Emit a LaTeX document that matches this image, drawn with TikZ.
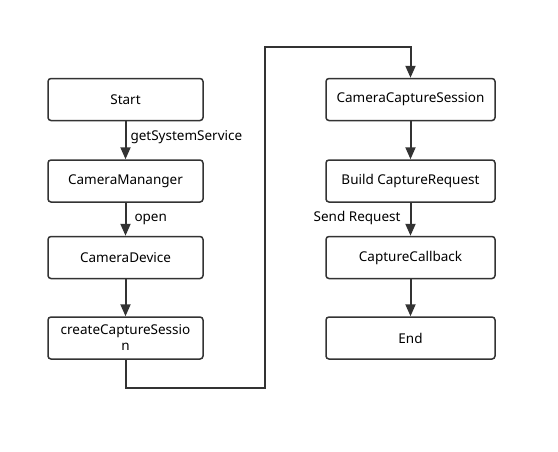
\documentclass[tikz,border=0pt]{standalone}
\usepackage{fontspec}
\setmainfont{Noto Sans}
\usetikzlibrary{arrows.meta}
\definecolor{linegray}{HTML}{333333}
\tikzset{
  box/.style={draw=linegray, line width=1.5pt, rounded corners=3pt, minimum height=42pt,
    inner sep=0pt, align=center, font=\fontsize{13.5}{16}\selectfont},
  leftbox/.style={box, minimum width=155pt},
  rightbox/.style={box, minimum width=169pt},
  flow/.style={draw=linegray, line width=2pt, -{Triangle[length=12pt,width=10pt]}},
  lbl/.style={font=\fontsize{13.5}{16}\selectfont, inner sep=0pt},
}
\begin{document}
\begin{tikzpicture}[x=1pt,y=-1pt]
\fill[white] (0,0) rectangle (558,451);
\useasboundingbox (0,0) rectangle (558,451);

% left column
\node[leftbox] (start) at (125.5,99.5) {Start};
\node[leftbox] (manager) at (125.5,181) {CameraMananger};
\node[leftbox] (device) at (125.5,257.5) {CameraDevice};
\node[leftbox] (session) at (125.5,338) {createCaptureSessio\\n};

% right column
\node[rightbox] (capture) at (410.5,99.5) {CameraCaptureSession};
\node[rightbox] (request) at (410.5,181) {Build CaptureRequest};
\node[rightbox] (callback) at (410.5,257.5) {CaptureCallback};
\node[rightbox] (finish) at (410.5,338) {End};

\coordinate (bendA) at (265,388);
\coordinate (bendB) at (265,47);

\draw[flow] (start) -- node[lbl, right, xshift=4pt, yshift=3pt] {getSystemService} (manager);
\draw[flow] (manager) -- node[lbl, right, xshift=8pt, yshift=0pt] {open} (device);
\draw[flow] (device) -- (session);
\draw[flow] (session.south) |- (bendA) -- (bendB) -| (capture.north);
\draw[flow] (capture) -- (request);
\draw[flow] (request) -- node[lbl, left, xshift=-9pt, yshift=1pt] {Send Request} (callback);
\draw[flow] (callback) -- (finish);
\end{tikzpicture}
\end{document}
